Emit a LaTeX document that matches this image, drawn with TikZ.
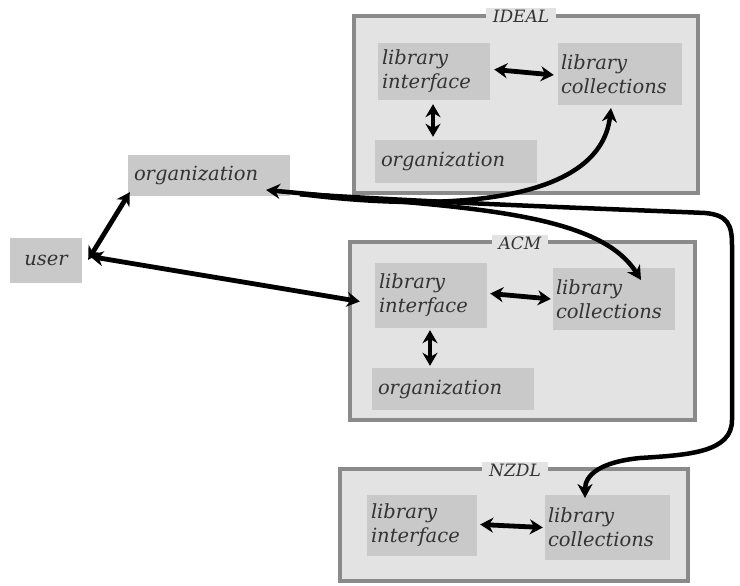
\documentclass[tikz,border=0pt]{standalone}
\usepackage{fontspec}
\setmainfont{DejaVu Serif}
\usetikzlibrary{arrows.meta}
\definecolor{outerfill}{HTML}{E3E3E3}
\definecolor{outerline}{HTML}{8A8A8A}
\definecolor{innerfill}{HTML}{C9C9C9}
\definecolor{txt}{HTML}{333333}
\tikzset{
  frame/.style={draw=outerline, line width=4.5pt, fill=outerfill, rectangle, inner sep=0pt},
  titlebox/.style={fill=outerfill, text=txt, inner xsep=7pt, inner ysep=2pt, font=\itshape\fontsize{17}{18}\selectfont},
  item/.style={fill=innerfill, text=txt, rectangle, inner sep=0pt, align=left, font=\itshape\fontsize{19.5}{24}\selectfont},
  link/.style={line width=4.8pt, {Stealth[length=13pt,width=15pt]}-{Stealth[length=13pt,width=15pt]}},
  curve/.style={line width=4.5pt, -{Stealth[length=14pt,width=15pt]}},
}
\begin{document}
\begin{tikzpicture}[x=1pt,y=-1pt]
\useasboundingbox (0,0) rectangle (740,586);
\fill[white] (0,0) rectangle (740,586);
% IDEAL
\node[frame, minimum width=344pt, minimum height=177pt] (ideal) at (526,104.5) {};
\node[titlebox] (idealt) at (521,16) {IDEAL};
\node[item, minimum width=112pt, minimum height=57pt, text width=104pt] (ideali) at (434,71.5) {library\\interface};
\node[item, minimum width=124pt, minimum height=62pt, text width=118pt] (idealc) at (620,74) {library\\collections};
\node[item, minimum width=162pt, minimum height=43pt, text width=150pt] (idealo) at (456,161.5) {organization};
\draw[link] ([xshift=4pt,yshift=2pt]ideali.east) -- ([xshift=-4pt,yshift=-1pt]idealc.west);
\draw[link] ([xshift=-1pt,yshift=-4pt]ideali.south) -- ([xshift=-23pt,yshift=3pt]idealo.north);
% outer organization and user
\node[item, minimum width=162pt, minimum height=41pt, text width=150pt] (org) at (209,175.5) {organization};
\node[item, minimum width=72pt, minimum height=45pt, text width=64pt, align=center] (user) at (46,260.5) {user};
% ACM
\node[frame, minimum width=345pt, minimum height=178pt] (acm) at (522.5,331) {};
\node[titlebox] (acmt) at (520,243) {ACM};
\node[item, minimum width=112pt, minimum height=65pt, text width=104pt] (acmi) at (431,295.5) {library\\interface};
\node[item, minimum width=122pt, minimum height=62pt, text width=116pt] (acmc) at (614,299) {library\\collections};
\node[item, minimum width=162pt, minimum height=42pt, text width=150pt] (acmo) at (453,389) {organization};
\draw[link] ([xshift=3pt,yshift=2pt]acmi.east) -- ([xshift=-2pt]acmc.west);
\draw[link] ([xshift=-1pt,yshift=-2pt]acmi.south) -- ([xshift=-23pt,yshift=2pt]acmo.north);
% NZDL
\node[frame, minimum width=348pt, minimum height=112pt] (nzdl) at (514,525) {};
\node[titlebox] (nzdlt) at (515,470) {NZDL};
\node[item, minimum width=110pt, minimum height=61pt, text width=102pt] (nzdli) at (422,525.5) {library\\interface};
\node[item, minimum width=125pt, minimum height=65pt, text width=119pt] (nzdlc) at (607.5,527.5) {library\\collections};
\draw[link] ([xshift=3pt,yshift=1pt]nzdli.east) -- ([xshift=-2pt]nzdlc.west);
% user links
\draw[link] ([xshift=6pt,yshift=-22pt]user.north east) -- ([xshift=2pt,yshift=4pt]org.south west);
\draw[link] ([xshift=8pt,yshift=4pt]user.east) -- ([xshift=-15pt,yshift=-6pt]acmi.west);
% curves from organization
\coordinate (orgtip) at (266,190);
\coordinate (idealtip) at (611,108);
\coordinate (acmtip) at (641,280);
\coordinate (nzdltip) at (585,498);
\draw[curve] (330,196) -- (orgtip);
\draw[curve] (300,194) .. controls (440,212) and (600,205) .. (idealtip);
\draw[curve] (300,194) .. controls (480,207) and (600,215) .. (acmtip);
\draw[curve] (300,194) .. controls (480,205) and (640,210) .. (705,213)
  .. controls (728,215) and (732,225) .. (732,245) -- (732,420)
  .. controls (732,452) and (690,455) .. (640,458)
  .. controls (600,462) and (585,475) .. (nzdltip);
\end{tikzpicture}
\end{document}
